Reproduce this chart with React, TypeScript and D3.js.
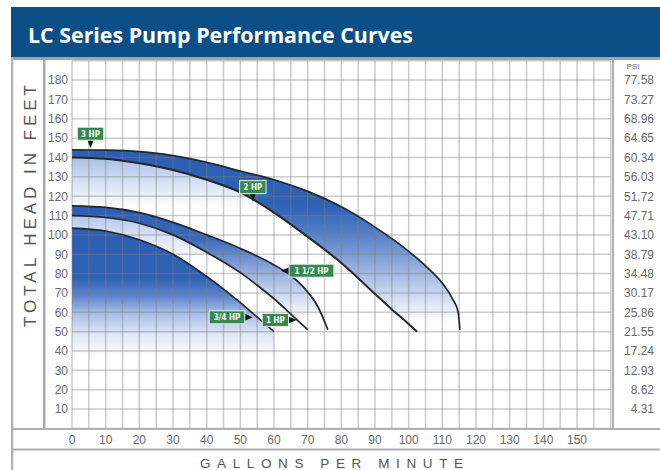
import React from 'react';
import * as d3 from 'd3';

// ---------- data ----------
const flowTicks = [0, 10, 20, 30, 40, 50, 60, 70, 80, 90, 100, 110, 120, 130, 140, 150];
const headTicks = [180, 170, 160, 150, 140, 130, 120, 110, 100, 90, 80, 70, 60, 50, 40, 30, 20, 10];
const psiTicks = ['77.58', '73.27', '68.96', '64.65', '60.34', '56.03', '51.72', '47.71', '43.10', '38.79', '34.48', '30.17', '25.86', '21.55', '17.24', '12.93', '8.62', '4.31'];

const flow3HP = [0, 10, 20, 30, 40, 50, 60, 70, 80, 90, 100, 105, 110, 113, 114.7, 115.2];
const head3HP = [144, 143.8, 143, 141, 137.5, 133, 128.5, 122.5, 114.5, 104, 91.5, 84, 75, 67, 60, 51];

const flow2HP = [0, 10, 20, 30, 40, 50, 60, 70, 80, 90, 95, 100, 102.5];
const head2HP = [140, 139.3, 137, 133.5, 128.5, 122, 111.5, 99, 85.5, 69.5, 61.5, 54, 50];

const flow15HP = [0, 10, 20, 30, 40, 50, 60, 65, 70, 73, 76];
const head15HP = [115, 114.2, 111.5, 106.5, 100, 93, 84.5, 79, 70.5, 63, 51];

const flow1HP = [0, 10, 20, 30, 40, 50, 55, 60, 65, 70];
const head1HP = [110, 109, 106, 100, 91, 80.5, 74, 67, 59, 51];

const flow34HP = [0, 10, 20, 30, 40, 45, 50, 55, 60];
const head34HP = [103.5, 102, 97.5, 90, 78.5, 72, 65, 57.5, 50];

const labelNames = ['3 HP', '2 HP', '1 1/2 HP', '3/4 HP', '1 HP'];
const labelFlow = [5.5, 53.7, 62.1, 53.7, 66.7];
const labelHead = [144.8, 117.2, 81.5, 57.4, 56.0];
const labelSide = ['top', 'top', 'right', 'left', 'left'];

// table built from the arrays (draw order: top curve first)
const curves = [
  { flow: flow3HP, head: head3HP, fill: 'url(#gUpper)' },
  { flow: flow2HP, head: head2HP, fill: 'url(#gUnder2)' },
  { flow: flow15HP, head: head15HP, fill: 'url(#gBand15)' },
  { flow: flow1HP, head: head1HP, fill: 'url(#gUnder1)' },
  { flow: flow34HP, head: head34HP, fill: 'url(#gUnder34)' },
];

const W = 660;
const H = 470;

export default function App() {
  const x = d3.scaleLinear().domain([0, 160]).range([72, 610.7]);
  const y = d3.scaleLinear().domain([0, 190]).range([428.4, 60.75]);

  const area = d3
    .area<[number, number]>()
    .x((d) => x(d[0]))
    .y0(y(0))
    .y1((d) => y(d[1]))
    .curve(d3.curveMonotoneX);
  const line = d3
    .line<[number, number]>()
    .x((d) => x(d[0]))
    .y((d) => y(d[1]))
    .curve(d3.curveMonotoneX);

  const pts = (c: { flow: number[]; head: number[] }) =>
    c.flow.map((f, i) => [f, c.head[i]] as [number, number]);

  const vGrid = d3.range(0, 160.01, 5);
  const hGrid = d3.range(0, 190.01, 10);

  const tickFont = "'Liberation Sans', Arial, sans-serif";

  const stop = (o: number, c: string) => <stop offset={o} stopColor={c} />;

  return (
    <svg
      width={W}
      height={H}
      viewBox={`0 0 ${W} ${H}`}
      style={{ position: 'absolute', left: 0, top: 0, background: '#fff' }}
    >
      <defs>
        <linearGradient id="gUpper" gradientUnits="userSpaceOnUse" x1="0" x2="0" y1="145" y2="322">
          {stop(0, '#2b5db2')}
          {stop(0.35, '#2f61b5')}
          {stop(0.5, '#5580c6')}
          {stop(0.62, '#7d9bd5')}
          {stop(0.82, '#c3d2ee')}
          {stop(1, '#ffffff')}
        </linearGradient>
        <linearGradient id="gUnder2" gradientUnits="userSpaceOnUse" x1="0" x2="0" y1="157" y2="208">
          {stop(0, '#a9bee7')}
          {stop(0.45, '#d2def3')}
          {stop(1, '#ffffff')}
        </linearGradient>
        <linearGradient id="gBand15" gradientUnits="userSpaceOnUse" x1="0" x2="0" y1="205" y2="318">
          {stop(0, '#2b5db2')}
          {stop(0.3, '#3a69bb')}
          {stop(0.55, '#88a4d8')}
          {stop(0.78, '#c8d6ef')}
          {stop(1, '#ffffff')}
        </linearGradient>
        <linearGradient id="gUnder1" gradientUnits="userSpaceOnUse" x1="0" x2="0" y1="215" y2="260">
          {stop(0, '#b3c6ea')}
          {stop(0.45, '#d8e2f4')}
          {stop(1, '#ffffff')}
        </linearGradient>
        <linearGradient id="gUnder34" gradientUnits="userSpaceOnUse" x1="0" x2="0" y1="228" y2="358">
          {stop(0, '#2b5db2')}
          {stop(0.38, '#2f61b5')}
          {stop(0.52, '#5b82c9')}
          {stop(0.65, '#a5bde6')}
          {stop(0.82, '#dfe7f5')}
          {stop(1, '#ffffff')}
        </linearGradient>
      </defs>

      {/* title bar */}
      <rect x={11} y={7} width={W - 11} height={50} fill="#0b4f86" />
      <text
        x={28}
        y={43}
        fill="#ffffff"
        fontFamily="'Open Sans', 'Lato', sans-serif"
        fontWeight={700}
        fontSize={22}
        textLength={385}
        lengthAdjust="spacingAndGlyphs"
      >
        LC Series Pump Performance Curves
      </text>
      <rect x={11} y={57} width={W - 11} height={3} fill="#a3a3a3" />

      {/* fills */}
      {curves.map((c, i) => (
        <path key={'a' + i} d={area(pts(c)) || ''} fill={c.fill} />
      ))}

      {/* grid */}
      <g stroke="rgba(125,125,125,0.4)" strokeWidth={1.5}>
        {vGrid.map((v) => (
          <line key={'v' + v} x1={x(v)} x2={x(v)} y1={y(190)} y2={y(0)} />
        ))}
        {hGrid.map((v) => (
          <line key={'h' + v} x1={x(0)} x2={x(160)} y1={y(v)} y2={y(v)} />
        ))}
      </g>

      {/* curve strokes */}
      {curves.map((c, i) => (
        <path
          key={'l' + i}
          d={line(pts(c)) || ''}
          fill="none"
          stroke="#22262f"
          strokeWidth={i === 1 ? 2 : 1.7}
        />
      ))}

      {/* labels */}
      {labelNames.map((name, i) => {
        const tx = x(labelFlow[i]);
        const ty = y(labelHead[i]);
        const bw = name.length * 4.6 + 8;
        const bh = 13;
        let bx = 0;
        let by = 0;
        let tri = '';
        if (labelSide[i] === 'top') {
          bx = tx - bw / 2;
          by = ty - 8 - bh;
          tri = `${tx - 3},${by + bh} ${tx + 3},${by + bh} ${tx},${ty}`;
        } else if (labelSide[i] === 'right') {
          bx = tx + 8;
          by = ty - bh / 2;
          tri = `${bx},${ty - 3.5} ${bx},${ty + 3.5} ${tx},${ty}`;
        } else {
          bx = tx - 8 - bw;
          by = ty - bh / 2;
          tri = `${bx + bw},${ty - 3.5} ${bx + bw},${ty + 3.5} ${tx},${ty}`;
        }
        return (
          <g key={'lab' + i}>
            <polygon points={tri} fill="#111" />
            <rect x={bx} y={by} width={bw} height={bh} fill="#35894f" stroke="#e6efe6" strokeWidth={1} />
            <text
              x={bx + bw / 2}
              y={by + bh / 2 + 3}
              textAnchor="middle"
              fill="#ffffff"
              fontFamily="'DejaVu Sans Condensed', 'DejaVu Sans', sans-serif"
              fontWeight={700}
              fontSize={8}
            >
              {name}
            </text>
          </g>
        );
      })}

      {/* frame lines */}
      <rect x={11} y={57} width={2.3} height={H - 57} fill="#b3b3b3" />
      <rect x={43} y={60} width={2.5} height={369} fill="#ababab" />
      <rect x={612} y={60} width={2} height={369} fill="#b0b0b0" />
      <rect x={11} y={428} width={W - 11} height={2} fill="#b0b0b0" />
      <rect x={11} y={448.5} width={W - 11} height={2} fill="#b0b0b0" />

      {/* left tick labels */}
      {headTicks.map((t) => (
        <text
          key={'yt' + t}
          x={68}
          y={y(t)}
          dy="0.36em"
          textAnchor="end"
          fill="#6a6a6a"
          fontFamily={tickFont}
          fontSize={12}
        >
          {t}
        </text>
      ))}

      {/* PSI labels */}
      <text x={633} y={69} textAnchor="middle" fill="#6a6a6a" fontFamily={tickFont} fontSize={8}>
        PSI
      </text>
      {psiTicks.map((p, i) => (
        <text
          key={'psi' + i}
          x={654}
          y={y(headTicks[i])}
          dy="0.36em"
          textAnchor="end"
          fill="#6a6a6a"
          fontFamily={tickFont}
          fontSize={12}
        >
          {p}
        </text>
      ))}

      {/* x tick labels */}
      {flowTicks.map((t) => (
        <text
          key={'xt' + t}
          x={x(t)}
          y={440}
          dy="0.36em"
          textAnchor="middle"
          fill="#6a6a6a"
          fontFamily={tickFont}
          fontSize={12}
        >
          {t}
        </text>
      ))}

      {/* axis titles */}
      <text
        transform="translate(35.5,206) rotate(-90)"
        textAnchor="middle"
        fill="#555"
        fontFamily={tickFont}
        fontSize={17}
        textLength={242}
        lengthAdjust="spacing"
      >
        TOTAL HEAD IN FEET
      </text>
      <text
        x={331.5}
        y={467.5}
        textAnchor="middle"
        fill="#555"
        fontFamily={tickFont}
        fontSize={13.5}
        textLength={263}
        lengthAdjust="spacing"
      >
        GALLONS PER MINUTE
      </text>
    </svg>
  );
}
